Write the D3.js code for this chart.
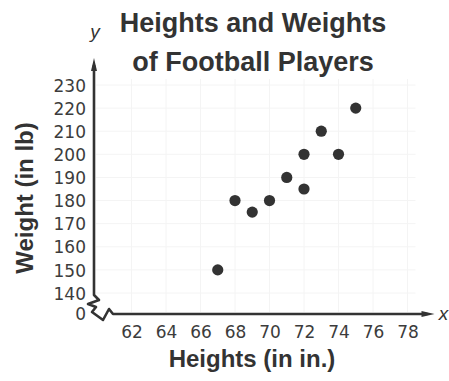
<!DOCTYPE html>
<html>
<head>
<meta charset="utf-8">
<script src="https://cdn.jsdelivr.net/npm/d3@7"></script>
<style>
  html, body { margin: 0; padding: 0; background: #fff; }
  svg { display: block; }
  text { font-family: "Liberation Sans", Arial, sans-serif; fill: #333; }
  .tick text { font-family: "DejaVu Sans", sans-serif; font-size: 17px; fill: #3c3c3c; }
</style>
</head>
<body>
<svg id="chart" width="449" height="381"></svg>
<script>
// Player measurements
const heights = [67, 68, 69, 70, 71, 72, 72, 73, 74, 75];
const weights = [150, 180, 175, 180, 190, 200, 185, 210, 200, 220];

// Axis ticks
const xTicks = [62, 64, 66, 68, 70, 72, 74, 76, 78];
const yTicks = [140, 150, 160, 170, 180, 190, 200, 210, 220, 230];

const titleLines = ["Heights and Weights", "of Football Players"];
const xTitle = "Heights (in in.)";
const yTitle = "Weight (in lb)";

const svg = d3.select("#chart");

const x = d3.scaleLinear().domain([62, 78]).range([131.5, 407.5]);
const y = d3.scaleLinear().domain([140, 230]).range([293, 85]);

const axisX = 94;      // position of the vertical axis
const axisY = 314;     // position of the horizontal axis (value 0 after the break)

// faint background grid
const grid = svg.append("g").attr("stroke", "#f4f4f4").attr("stroke-width", 1);
grid.selectAll("line.v").data(xTicks).join("line")
  .attr("x1", d => x(d)).attr("x2", d => x(d))
  .attr("y1", y(230) - 6).attr("y2", axisY - 2);
grid.selectAll("line.h").data(yTicks).join("line")
  .attr("x1", axisX + 2).attr("x2", x(78) + 8)
  .attr("y1", d => y(d)).attr("y2", d => y(d));

// tick labels via d3 axes (domain and tick marks hidden)
const gy = svg.append("g").attr("transform", `translate(${axisX - 8},0)`)
  .call(d3.axisLeft(y).tickValues(yTicks).tickSize(0).tickPadding(0));
gy.select(".domain").remove();
gy.selectAll(".tick text").attr("dy", "0.36em");

const gx = svg.append("g").attr("transform", `translate(0,${axisY + 8})`)
  .call(d3.axisBottom(x).tickValues(xTicks).tickSize(0).tickPadding(0));
gx.select(".domain").remove();
gx.selectAll(".tick text").attr("dy", "0.95em");

// the "0" label sitting at the origin below the break
svg.append("text")
  .attr("x", axisX - 8).attr("y", axisY + 6)
  .attr("text-anchor", "end")
  .style("font-family", '"DejaVu Sans", sans-serif')
  .style("font-size", "17px").style("fill", "#3c3c3c")
  .text("0");

// axes with arrowheads and a zigzag break near the origin
const ink = "#333";
svg.append("path")
  .attr("fill", "none").attr("stroke", ink).attr("stroke-width", 2.6)
  .attr("stroke-linejoin", "round")
  .attr("d", [
    `M${axisX},${y(230) - 20}`,
    `L${axisX},${y(140) + 2}`,
    `L${axisX + 5},${axisY - 14}`,
    `L${axisX - 6},${axisY - 10}`,
    `L${axisX + 2},${axisY - 7}`,
    `L${axisX - 2},${axisY - 2}`,
    `L${axisX + 9},${axisY + 6}`,
    `L${axisX + 15},${axisY - 5}`,
    `L${axisX + 19},${axisY}`,
    `L${x(78) + 20},${axisY}`
  ].join(" "));

// arrowheads
svg.append("path").attr("fill", ink)
  .attr("d", `M${axisX},${y(230) - 27} L${axisX - 3},${y(230) - 14} L${axisX + 3},${y(230) - 14} Z`);
svg.append("path").attr("fill", ink)
  .attr("d", `M${x(78) + 27},${axisY} L${x(78) + 14},${axisY - 3} L${x(78) + 14},${axisY + 3} Z`);

// axis letters
svg.append("text").attr("x", axisX + 1).attr("y", 38)
  .attr("text-anchor", "middle")
  .style("font-style", "italic").style("font-size", "19px")
  .text("y");
svg.append("text").attr("x", x(78) + 36).attr("y", axisY + 6)
  .attr("text-anchor", "middle")
  .style("font-style", "italic").style("font-size", "19px")
  .text("x");

// title
svg.append("g").selectAll("text").data(titleLines).join("text")
  .attr("x", 253).attr("y", (d, i) => 32 + i * 39)
  .attr("text-anchor", "middle")
  .style("font-weight", "bold").style("font-size", "27px")
  .text(d => d);

// axis titles
svg.append("text")
  .attr("x", 252).attr("y", 367)
  .attr("text-anchor", "middle")
  .style("font-weight", "bold").style("font-size", "24px")
  .text(xTitle);
svg.append("text")
  .attr("transform", "translate(33,198) rotate(-90)")
  .attr("text-anchor", "middle")
  .style("font-weight", "bold").style("font-size", "24px")
  .text(yTitle);

// data points
svg.append("g").selectAll("circle")
  .data(heights.map((h, i) => ({ h, w: weights[i] })))
  .join("circle")
  .attr("cx", d => x(d.h))
  .attr("cy", d => y(d.w))
  .attr("r", 5.6)
  .attr("fill", "#333");
</script>
</body>
</html>
